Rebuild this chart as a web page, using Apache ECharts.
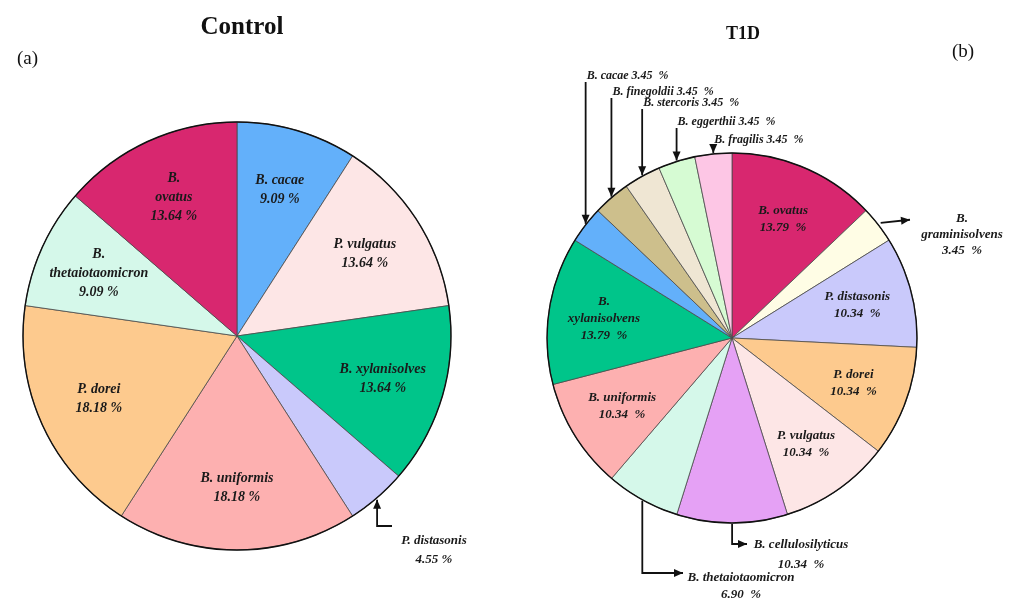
<!DOCTYPE html>
<html>
<head>
<meta charset="utf-8">
<script src="https://cdn.jsdelivr.net/npm/echarts@6/dist/echarts.min.js"></script>
<style>
  html, body { margin: 0; padding: 0; background: #ffffff; }
  #chart { width: 1016px; height: 601px; }
</style>
</head>
<body>
<div id="chart"></div>
<script>
// ---- Control group (relative abundance, %) ----
const controlNames = ['B. cacae', 'P. vulgatus', 'B. xylanisolves', 'P. distasonis',
  'B. uniformis', 'P. dorei', 'B. thetaiotaomicron', 'B. ovatus'];
const controlValues = [9.09, 13.64, 13.64, 4.55, 18.18, 18.18, 9.09, 13.64];
const controlColors = ['#63b0fa', '#fde6e6', '#00c58a', '#c9c9fb',
  '#fdb0b0', '#fdca8e', '#d5f8ea', '#d8276f'];
const controlWrapped = ['B. ovatus', 'B. thetaiotaomicron'];

// ---- T1D group (relative abundance, %) ----
const t1dNames = ['B. ovatus', 'B. graminisolvens', 'P. distasonis', 'P. dorei', 'P. vulgatus',
  'B. cellulosilyticus', 'B. thetaiotaomicron', 'B. uniformis', 'B. xylanisolvens',
  'B. cacae', 'B. finegoldii', 'B. stercoris', 'B. eggerthii', 'B. fragilis'];
const t1dValues = [13.79, 3.45, 10.34, 10.34, 10.34, 10.34, 6.90, 10.34, 13.79,
  3.45, 3.45, 3.45, 3.45, 3.45];
const t1dColors = ['#d8276f', '#fffde5', '#c9c9fb', '#fdca8e', '#fde6e6', '#e5a1f5',
  '#d5f8ea', '#fdb0b0', '#00c58a', '#63b0fa', '#cdbf8c', '#efe6d3', '#d6fbd3', '#fdc6e5'];
const t1dWrapped = ['B. xylanisolvens', 'B. graminisolvens'];

// ---- Geometry and callout placement ----
const SERIF = "'Liberation Serif', 'DejaVu Serif', serif";
const controlPie = { center: [237, 336], radius: 214, labelRatio: 0.71 };
const t1dPie = { center: [732, 338], radius: 185, labelRatio: 0.70 };

// Slices labelled outside the pie, joined to it with an arrow
const controlCallouts = {
  'P. distasonis': { kind: 'hook', x: 434, y: 550, turnY: 526, endX: 392, lineHeight: 19, fontSize: 13 }
};
const t1dCallouts = {
  'B. cacae': { kind: 'down', y: 76 },
  'B. finegoldii': { kind: 'down', y: 92 },
  'B. stercoris': { kind: 'down', y: 103 },
  'B. eggerthii': { kind: 'down', y: 122 },
  'B. fragilis': { kind: 'down', y: 140 },
  'B. graminisolvens': { kind: 'out', x: 962, y: 235, tipX: 910, lineHeight: 16, fontSize: 13 },
  'B. cellulosilyticus': { kind: 'elbow', x: 801, y: 555, turnY: 544, tipX: 747, lineHeight: 20, fontSize: 13 },
  'B. thetaiotaomicron': { kind: 'elbow', x: 741, y: 586, turnY: 573, tipX: 683, lineHeight: 17, fontSize: 13 }
};

function pct(v, gap) { return v.toFixed(2) + gap + '%'; }
function wrapName(name, wrapped) { return wrapped.includes(name) ? name.replace('. ', '.\n') : name; }

function buildData(names, values, colors, callouts) {
  return names.map((n, i) => ({
    name: n,
    value: values[i],
    itemStyle: { color: colors[i] },
    label: { show: !callouts[n] }
  }));
}

// Place inside labels along the slice bisector at a fixed fraction of the radius
function radialPlace(pie) {
  const target = pie.labelRatio * pie.radius;
  return function (params) {
    const r = params.labelRect;
    const vx = r.x + r.width / 2 - pie.center[0];
    const vy = r.y + r.height / 2 - pie.center[1];
    const d = Math.sqrt(vx * vx + vy * vy) || 1;
    return {
      x: pie.center[0] + vx / d * target,
      y: pie.center[1] + vy / d * target,
      align: 'center',
      verticalAlign: 'middle'
    };
  };
}

function pieSeries(pie, names, values, colors, callouts, wrapped, gap, fontSize, lineHeight) {
  return {
    type: 'pie',
    center: pie.center,
    radius: [0, pie.radius],
    startAngle: 90,
    clockwise: true,
    avoidLabelOverlap: false,
    silent: true,
    animation: false,
    itemStyle: { borderColor: '#4a4a4a', borderWidth: 0.8 },
    label: {
      show: true,
      position: 'inside',
      color: '#1a1a1a',
      fontFamily: SERIF,
      fontStyle: 'italic',
      fontWeight: 'bold',
      fontSize: fontSize,
      lineHeight: lineHeight,
      formatter: p => wrapName(p.name, wrapped) + '\n' + pct(p.value, gap)
    },
    labelLine: { show: false },
    labelLayout: radialPlace(pie),
    emphasis: { disabled: true },
    data: buildData(names, values, colors, callouts)
  };
}

const chart = echarts.init(document.getElementById('chart'), null, { renderer: 'canvas' });

chart.setOption({
  backgroundColor: '#ffffff',
  animation: false,
  title: [
    { text: 'Control', left: 237, top: 10, textAlign: 'center',
      textStyle: { fontFamily: SERIF, fontWeight: 'bold', fontSize: 25, color: '#111' } },
    { text: 'T1D', left: 738, top: 20, textAlign: 'center',
      textStyle: { fontFamily: SERIF, fontWeight: 'bold', fontSize: 18, color: '#111' } },
    { text: '(a)', left: 12, top: 45,
      textStyle: { fontFamily: SERIF, fontWeight: 'normal', fontSize: 19, color: '#111' } },
    { text: '(b)', left: 947, top: 38,
      textStyle: { fontFamily: SERIF, fontWeight: 'normal', fontSize: 19, color: '#111' } }
  ],
  series: [
    pieSeries(controlPie, controlNames, controlValues, controlColors, controlCallouts, controlWrapped, ' ', 14, 19),
    pieSeries(t1dPie, t1dNames, t1dValues, t1dColors, t1dCallouts, t1dWrapped, '  ', 13, 17)
  ]
});

// ---- Outline circles, arrows and outside labels, placed from the computed slice layout ----
function sliceAnchor(seriesIndex, dataIndex) {
  const data = chart.getModel().getSeriesByIndex(seriesIndex).getData();
  const l = data.getItemLayout(dataIndex);
  const m = (l.startAngle + l.endAngle) / 2;
  return { x: l.cx + l.r * Math.cos(m), y: l.cy + l.r * Math.sin(m),
    ux: Math.cos(m), uy: Math.sin(m), cx: l.cx, cy: l.cy, r: l.r };
}

const INK = '#111111';
function line(points) {
  return { type: 'polyline', z: 100, silent: true, shape: { points: points },
    style: { stroke: INK, lineWidth: 1.8, fill: null } };
}
function arrowHead(tip, from) {
  const a = Math.atan2(tip[1] - from[1], tip[0] - from[0]);
  const L = 9, W = 4;
  const bx = tip[0] - L * Math.cos(a), by = tip[1] - L * Math.sin(a);
  const px = -Math.sin(a) * W, py = Math.cos(a) * W;
  return { type: 'polygon', z: 101, silent: true,
    shape: { points: [tip, [bx + px, by + py], [bx - px, by - py]] }, style: { fill: INK } };
}
function text(x, y, str, align, fontSize, lineHeight) {
  return { type: 'text', z: 102, silent: true, x: x, y: y,
    style: { text: str, align: align, verticalAlign: 'middle', fill: '#1a1a1a',
      font: 'italic bold ' + fontSize + 'px ' + SERIF, lineHeight: lineHeight } };
}

function callouts(seriesIndex, names, values, wrapped, gap, table) {
  const out = [];
  names.forEach((n, i) => {
    const c = table[n];
    if (!c) return;
    const A = sliceAnchor(seriesIndex, i);
    if (c.kind === 'down') {
      const tip = [A.x, A.y - 1];
      out.push(line([[A.x, c.y + 6], tip]));
      out.push(arrowHead(tip, [A.x, tip[1] - 10]));
      out.push(text(A.x + 1, c.y, n + ' ' + pct(values[i], gap), 'left', 12, 14));
    } else if (c.kind === 'hook') {
      const tip = [A.x, A.y + 2];
      out.push(line([tip, [A.x, c.turnY], [c.endX, c.turnY]]));
      out.push(arrowHead(tip, [A.x, tip[1] + 10]));
      out.push(text(c.x, c.y, wrapName(n, wrapped) + '\n' + pct(values[i], gap), 'center', c.fontSize, c.lineHeight));
    } else if (c.kind === 'out') {
      const start = [A.x + A.ux * 3, A.y + A.uy * 3];
      const tip = [c.tipX, A.y - 5];
      out.push(line([start, tip]));
      out.push(arrowHead(tip, start));
      out.push(text(c.x, c.y, wrapName(n, wrapped) + '\n' + pct(values[i], gap), 'center', c.fontSize, c.lineHeight));
    } else if (c.kind === 'elbow') {
      const tip = [c.tipX, c.turnY];
      out.push(line([[A.x, A.y + 1], [A.x, c.turnY], tip]));
      out.push(arrowHead(tip, [c.tipX - 10, c.turnY]));
      out.push(text(c.x, c.y, wrapName(n, wrapped) + '\n' + pct(values[i], gap), 'center', c.fontSize, c.lineHeight));
    }
  });
  return out;
}

function outline(seriesIndex) {
  const A = sliceAnchor(seriesIndex, 0);
  return { type: 'circle', z: 99, silent: true, shape: { cx: A.cx, cy: A.cy, r: A.r },
    style: { fill: null, stroke: INK, lineWidth: 1.4 } };
}

chart.setOption({
  graphic: [
    outline(0), outline(1),
    ...callouts(0, controlNames, controlValues, controlWrapped, ' ', controlCallouts),
    ...callouts(1, t1dNames, t1dValues, t1dWrapped, '  ', t1dCallouts)
  ]
});
</script>
</body>
</html>
